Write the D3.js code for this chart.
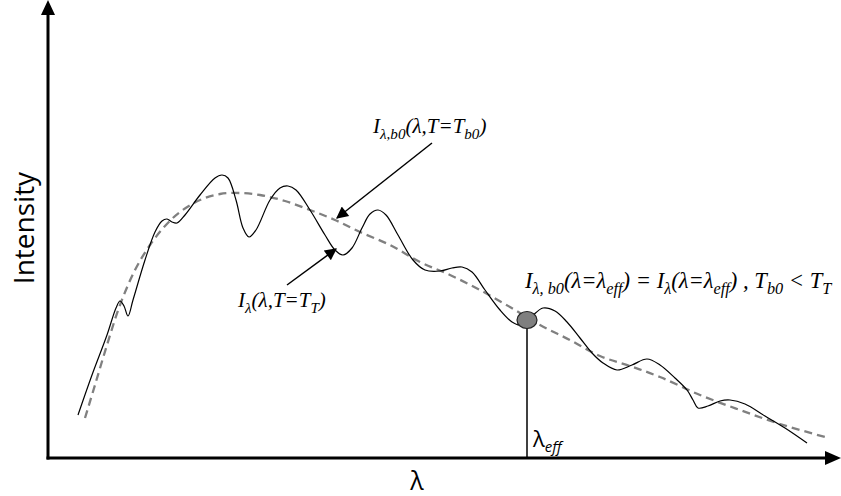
<!DOCTYPE html>
<html>
<head>
<meta charset="utf-8">
<script src="https://cdn.jsdelivr.net/npm/d3@7"></script>
<style>
  html, body { margin: 0; padding: 0; background: #fff; }
  svg { display: block; }
</style>
</head>
<body>
<svg id="chart" width="841" height="496"></svg>
<script>
// Measured spectrum I_λ(λ, T = T_T): wavelength and intensity (arbitrary units)
const measuredLambda = [30, 44, 59, 68, 72, 76, 80, 85, 97, 107, 114, 119, 124, 129, 137, 152, 167, 174, 180, 188, 195, 201, 208, 222, 232, 240, 248, 262, 277, 287, 295, 304, 314, 322, 330, 338, 350, 365, 377, 392, 404, 414, 424, 437, 452, 464, 472, 483, 495, 507, 519, 532, 544, 555, 569, 584, 599, 612, 627, 639, 645, 650, 660, 672, 682, 697, 717, 737, 759];
const measuredIntensity = [43, 83, 123, 150, 157, 152, 142, 158, 198, 226, 237, 239, 236, 235, 243, 263, 280, 283, 280, 258, 230, 221, 228, 258, 270, 272, 268, 248, 223, 208, 203, 210, 230, 244, 248, 243, 223, 198, 188, 187, 190, 191, 186, 168, 148, 136, 133, 141, 150, 147, 136, 120, 105, 95, 88, 93, 99, 93, 80, 68, 58, 50, 52, 57, 58, 54, 42, 30, 15];
// Blackbody curve I_λ,b0(λ, T = T_b0)
const blackbodyLambda = [37, 47, 59, 72, 87, 102, 117, 132, 152, 172, 192, 212, 237, 262, 287, 312, 342, 372, 402, 432, 462, 492, 522, 552, 582, 612, 652, 692, 732, 777];
const blackbodyIntensity = [40, 73, 113, 153, 188, 213, 232, 246, 258, 264, 265, 263, 257, 248, 238, 226, 213, 196, 183, 168, 151, 133, 118, 102, 92, 81, 63, 48, 34, 21];
// Point where both curves meet: λ_eff
const lambdaEff = 479;
const intensityEff = 138;

const svg = d3.select("#chart");
const x = d3.scaleLinear().domain([0, 790]).range([48, 838]);
const y = d3.scaleLinear().domain([0, 450]).range([458, 8]);

const serif = "'Liberation Serif', 'Times New Roman', serif";
const sans = "'Open Sans', 'Noto Sans', sans-serif";

// Arrowhead markers
const defs = svg.append("defs");
defs.append("marker")
  .attr("id", "head")
  .attr("viewBox", "0 0 10 10")
  .attr("refX", 9).attr("refY", 5)
  .attr("markerWidth", 14).attr("markerHeight", 12)
  .attr("markerUnits", "userSpaceOnUse")
  .attr("orient", "auto")
  .append("path").attr("d", "M0,0 L10,5 L0,10 Z").attr("fill", "#000");

// Axes
svg.append("line")
  .attr("x1", x(0)).attr("y1", y(0) + 1.5)
  .attr("x2", x(0)).attr("y2", 14)
  .attr("stroke", "#000").attr("stroke-width", 3);
svg.append("path").attr("d", `M${x(0) - 7},15 L${x(0)},0 L${x(0) + 7},15 Z`).attr("fill", "#000");
svg.append("line")
  .attr("x1", x(0) - 1.5).attr("y1", y(0))
  .attr("x2", 826).attr("y2", y(0))
  .attr("stroke", "#000").attr("stroke-width", 3);
svg.append("path").attr("d", `M825,${y(0) - 7} L841,${y(0)} L825,${y(0) + 7} Z`).attr("fill", "#000");

// Curves
const line = d3.line().x(d => x(d[0])).y(d => y(d[1])).curve(d3.curveCatmullRom.alpha(0.5));
svg.append("path")
  .attr("d", line(blackbodyLambda.map((v, i) => [v, blackbodyIntensity[i]])))
  .attr("fill", "none").attr("stroke", "#808080").attr("stroke-width", 2.3)
  .attr("stroke-dasharray", "8,5");
svg.append("path")
  .attr("d", line(measuredLambda.map((v, i) => [v, measuredIntensity[i]])))
  .attr("fill", "none").attr("stroke", "#000").attr("stroke-width", 1.2);

// λ_eff marker
svg.append("line")
  .attr("x1", x(lambdaEff)).attr("x2", x(lambdaEff))
  .attr("y1", y(intensityEff)).attr("y2", y(0))
  .attr("stroke", "#000").attr("stroke-width", 1.5);
svg.append("ellipse")
  .attr("cx", x(lambdaEff)).attr("cy", y(intensityEff))
  .attr("rx", 10).attr("ry", 8.5)
  .attr("fill", "#7f7f7f").attr("stroke", "#222").attr("stroke-width", 1.2);

// Pointer arrows
svg.append("line")
  .attr("x1", 432).attr("y1", 143).attr("x2", 337).attr("y2", 218)
  .attr("stroke", "#000").attr("stroke-width", 1.5).attr("marker-end", "url(#head)");
svg.append("line")
  .attr("x1", 287).attr("y1", 285).attr("x2", 336).attr("y2", 249)
  .attr("stroke", "#000").attr("stroke-width", 1.5).attr("marker-end", "url(#head)");

// Text helper: parts are [text, isSubscript]
function richText(px, py, parts, size) {
  const t = svg.append("text")
    .attr("x", px).attr("y", py)
    .attr("font-family", serif).attr("font-style", "italic")
    .attr("font-size", size).attr("fill", "#000");
  let shifted = 0;
  parts.forEach(([s, sub]) => {
    const target = sub ? size * 0.28 : 0;
    t.append("tspan")
      .attr("dy", target - shifted)
      .attr("font-size", sub ? size * 0.72 : size)
      .text(s);
    shifted = target;
  });
  return t;
}

richText(373, 133, [["I", false], ["λ,b0", true], ["(λ,T=T", false], ["b0", true], [")", false]], 21);
richText(238, 307, [["I", false], ["λ", true], ["(λ,T=T", false], ["T", true], [")", false]], 21);
richText(525, 288, [["I", false], ["λ, b0", true], ["(λ=λ", false], ["eff", true], [") = I", false], ["λ", true],
  ["(λ=λ", false], ["eff", true], [") , T", false], ["b0", true], [" < T", false], ["T", true]], 22.6);

// λ_eff label
const eff = svg.append("text")
  .attr("x", x(lambdaEff) + 6).attr("y", 447)
  .attr("font-family", sans).attr("font-size", 22).attr("fill", "#000");
eff.append("tspan").text("λ");
eff.append("tspan").attr("dy", 5).attr("font-size", 15).attr("font-style", "italic").text("eff");

// Axis titles
svg.append("text")
  .attr("transform", "translate(34,228) rotate(-90)")
  .attr("text-anchor", "middle")
  .attr("font-family", sans).attr("font-size", 28).attr("fill", "#000")
  .text("Intensity");
svg.append("text")
  .attr("x", 417).attr("y", 490)
  .attr("text-anchor", "middle")
  .attr("font-family", sans).attr("font-size", 25).attr("fill", "#000")
  .text("λ");
</script>
</body>
</html>
